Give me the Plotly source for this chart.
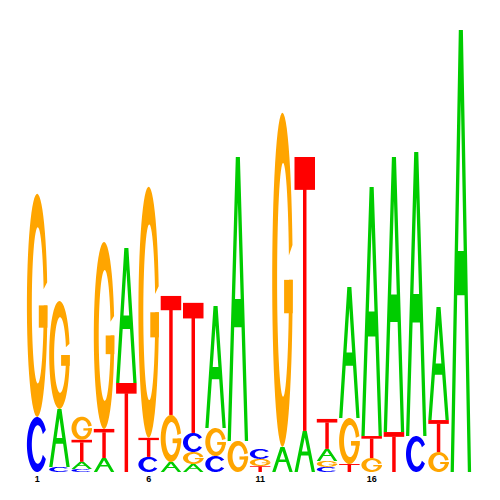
import numpy as np
import plotly.graph_objects as go

# ---- data: letter heights (bits) per position ----
positions = list(range(1, 21))
A = [0, 0.261, 0.032, 0.063, 0.608, 0, 0.045, 0.036, 0.550, 1.279,
     0, 0.113, 0.185, 0.054, 0.590, 1.122, 1.239, 1.279, 0.509, 1.991]
C = [0.248, 0.023, 0.014, 0, 0, 0.068, 0, 0.086, 0.072, 0,
     0.045, 0, 0, 0.023, 0, 0, 0, 0.162, 0, 0]
G = [1.005, 0.486, 0.104, 0.842, 0, 1.131, 0.212, 0.054, 0.126, 0.140,
     0.032, 1.505, 0, 0.027, 0.207, 0.063, 0, 0, 0.090, 0]
T = [0, 0, 0.099, 0.131, 0.401, 0.086, 0.536, 0.586, 0, 0,
     0.027, 0, 1.234, 0.135, 0.036, 0.099, 0.180, 0, 0.144, 0]
tick_vals = [1, 6, 11, 16]
tick_text = ["1", "6", "11", "16"]

colors = {"A": "#00CC00", "C": "#0000FF", "G": "#FFA500", "T": "#FF0000"}
LW = 0.92  # letter width as fraction of column


def unit_polys(letter):
    """Return list of shapes; each shape is a list of rings in the unit square."""
    if letter == "T":
        return [[[(0, 0.88), (1, 0.88), (1, 1), (0, 1)]],
                [[(0.415, 0), (0.585, 0), (0.585, 0.885), (0.415, 0.885)]]]
    if letter == "A":
        outer = [(0, 0), (0.40, 1), (0.60, 1), (1, 0), (0.84, 0),
                 (0.678, 0.40), (0.322, 0.40), (0.16, 0)]
        hole = [(0.3625, 0.50), (0.5, 0.84), (0.6375, 0.50)]
        return [[outer, hole]]
    if letter in ("C", "G"):
        if letter == "C":
            a1, a2 = np.radians(32), np.radians(328)
        else:
            a1, a2 = np.radians(12), np.radians(360)
        th = np.linspace(a1, a2, 60)
        cxi, rxi, ryi = 0.53, 0.29, 0.35
        out = [(0.5 + 0.5 * np.cos(t), 0.5 + 0.5 * np.sin(t)) for t in th]
        inn = [(cxi + rxi * np.cos(t), 0.5 + ryi * np.sin(t)) for t in th[::-1]]
        shapes = [[out + inn]]
        if letter == "G":
            shapes.append([[(0.58, 0.40), (1.0, 0.40), (1.0, 0.50), (0.58, 0.50)]])
        return shapes
    return []


def to_path(rings, x0, x1, y0, y1):
    parts = []
    for ring in rings:
        pts = [(x0 + (x1 - x0) * px, y0 + (y1 - y0) * py) for px, py in ring]
        s = "M " + " L ".join(f"{px:.4f},{py:.4f}" for px, py in pts) + " Z"
        parts.append(s)
    return " ".join(parts)


shapes = []
for i, pos in enumerate(positions):
    col = [("A", A[i]), ("C", C[i]), ("G", G[i]), ("T", T[i])]
    col = sorted([c for c in col if c[1] > 0], key=lambda c: c[1])
    base = 0.0
    x0, x1 = pos - LW / 2, pos + LW / 2
    for letter, h in col:
        for rings in unit_polys(letter):
            shapes.append(dict(type="path", xref="x", yref="y",
                               path=to_path(rings, x0, x1, base, base + h),
                               fillcolor=colors[letter], line=dict(width=0),
                               fillrule="evenodd", layer="above"))
        base += h

fig = go.Figure()
fig.add_trace(go.Scatter(x=positions, y=[0] * len(positions), mode="markers",
                         marker=dict(opacity=0), hoverinfo="skip", showlegend=False))
fig.update_layout(
    width=500, height=500,
    margin=dict(l=18, r=36, t=20, b=36),
    paper_bgcolor="white", plot_bgcolor="white",
    shapes=shapes,
    xaxis=dict(range=[0.5, 20.5], tickvals=tick_vals, ticktext=tick_text,
               showgrid=False, zeroline=False, showline=False, ticks="",
               tickfont=dict(family="Liberation Sans", size=9, color="black", weight="bold")),
    yaxis=dict(range=[0, 2], visible=False, showgrid=False, zeroline=False),
)
fig.write_html("out.html")
